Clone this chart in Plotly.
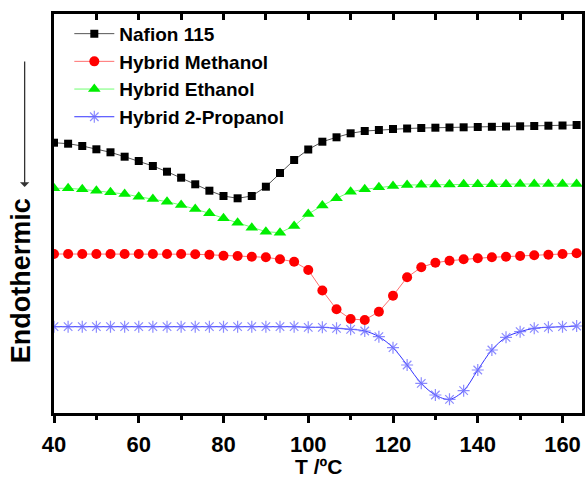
import plotly.graph_objects as go

# Temperature (°C), sampled every 10/3 °C from 40
temperature = [round(40 + i * 10 / 3, 2) for i in range(38)]

# Heat flow (arbitrary units, stacked curves)
nafion_115 = [27.43, 27.33, 27.10, 26.77, 26.47, 26.03, 25.60, 25.10, 24.53, 23.93,
              23.27, 22.63, 22.10, 21.87, 22.10, 23.03, 24.40, 25.70, 26.75, 27.53,
              27.97, 28.37, 28.60, 28.70, 28.80, 28.85, 28.90, 28.93, 28.95, 28.97,
              29.00, 29.02, 29.05, 29.07, 29.10, 29.13, 29.15, 29.20]
hybrid_methanol = [16.30, 16.30, 16.30, 16.30, 16.30, 16.30, 16.30, 16.30, 16.30, 16.30,
                   16.28, 16.22, 16.13, 16.10, 16.03, 15.97, 15.77, 15.53, 14.70, 12.65,
                   10.77, 9.80, 9.70, 10.53, 12.13, 13.97, 14.97, 15.43, 15.63, 15.77,
                   15.87, 15.97, 16.03, 16.10, 16.17, 16.23, 16.30, 16.37]
hybrid_ethanol = [22.87, 22.87, 22.77, 22.63, 22.47, 22.30, 22.03, 21.80, 21.53, 21.20,
                  20.80, 20.37, 19.87, 19.43, 18.93, 18.53, 18.43, 19.10, 20.30, 21.15,
                  21.87, 22.53, 22.77, 22.97, 23.10, 23.20, 23.22, 23.25, 23.25, 23.27,
                  23.27, 23.28, 23.28, 23.30, 23.30, 23.30, 23.30, 23.30]
hybrid_2_propanol = [9.03, 9.03, 9.03, 9.03, 9.03, 9.03, 9.03, 9.03, 9.03, 9.03,
                     9.03, 9.03, 9.03, 9.03, 9.03, 9.03, 9.03, 9.03, 8.97, 8.97,
                     8.87, 8.77, 8.60, 8.03, 6.93, 5.20, 3.37, 2.20, 1.77, 2.63,
                     4.70, 6.70, 7.97, 8.53, 8.87, 8.97, 9.03, 9.10]

x_ticks = [40, 60, 80, 100, 120, 140, 160]

FONT = "Liberation Sans, Arial, sans-serif"

fig = go.Figure()
fig.add_trace(go.Scatter(
    x=temperature, y=nafion_115, name="Nafion 115", mode="lines+markers",
    line=dict(color="#555555", width=1),
    marker=dict(symbol="square", size=8, color="black")))
fig.add_trace(go.Scatter(
    x=temperature, y=hybrid_methanol, name="Hybrid Methanol", mode="lines+markers",
    line=dict(color="#ff7070", width=1),
    marker=dict(symbol="circle", size=10, color="#ff0000")))
fig.add_trace(go.Scatter(
    x=temperature, y=hybrid_ethanol, name="Hybrid Ethanol", mode="lines+markers",
    line=dict(color="#70ff70", width=1),
    marker=dict(symbol="triangle-up", size=11, color="#00ee00")))
fig.add_trace(go.Scatter(
    x=temperature, y=hybrid_2_propanol, name="Hybrid 2-Propanol", mode="lines+markers",
    line=dict(color="#3333ff", width=1, shape="spline"),
    marker=dict(symbol="asterisk-open", size=10, color="rgba(110,110,255,0.8)",
                line=dict(width=1.2, color="rgba(110,110,255,0.8)"))))
# invisible trace for the top axis ticks
fig.add_trace(go.Scatter(x=[40], y=[1], xaxis="x2", mode="markers",
                         marker=dict(opacity=0), showlegend=False, hoverinfo="skip"))

fig.update_layout(
    width=587, height=479,
    margin=dict(l=54, r=2, t=14, b=66),
    paper_bgcolor="white", plot_bgcolor="white",
    font=dict(family=FONT, color="black"),
    showlegend=True,
    legend=dict(x=0.029, y=0.998, xanchor="left", yanchor="top",
                bgcolor="rgba(0,0,0,0)", borderwidth=0,
                font=dict(family=FONT, size=19, weight="bold", color="black"),
                tracegroupgap=0, itemwidth=40),
    xaxis=dict(range=[40, 164.6], tickmode="array", tickvals=x_ticks,
               ticks="outside", ticklen=7, tickwidth=2.5, tickcolor="black",
               minor=dict(dtick=10, tick0=40, ticks="outside", ticklen=4,
                          tickwidth=2.5, tickcolor="black"),
               showline=True, linewidth=3, linecolor="black", mirror=True,
               showgrid=False, zeroline=False, ticklabelstandoff=3,
               tickfont=dict(family=FONT, size=22, weight="bold")),
    xaxis2=dict(overlaying="x", side="top", matches="x", range=[40, 164.6],
                tickmode="linear", tick0=40, dtick=10, ticks="inside",
                ticklen=6, tickwidth=2.5, tickcolor="black",
                showticklabels=False, showline=False, showgrid=False,
                zeroline=False),
    yaxis=dict(range=[0.4, 40.3], showticklabels=False, ticks="",
               showline=True, linewidth=3, linecolor="black", mirror=True,
               showgrid=False, zeroline=False),
    annotations=[
        dict(text="<b>T /ºC</b>", xref="paper", yref="paper",
             x=0.5, y=-0.1654, xanchor="center", yanchor="bottom",
             showarrow=False, borderpad=0,
             font=dict(family=FONT, size=21, color="black")),
        dict(text="<b>Endothermic</b>", xref="paper", yref="paper",
             x=-0.062, y=0.331, xanchor="center", yanchor="middle",
             textangle=-90, showarrow=False,
             font=dict(family=FONT, size=27, color="black")),
        dict(text="", xref="paper", yref="paper", x=-0.0556, y=0.5664,
             showarrow=True, ax=0, ay=-127, arrowhead=1, arrowsize=1.2,
             arrowwidth=1.3, arrowcolor="#333333"),
    ],
)

fig.write_html("out.html")
